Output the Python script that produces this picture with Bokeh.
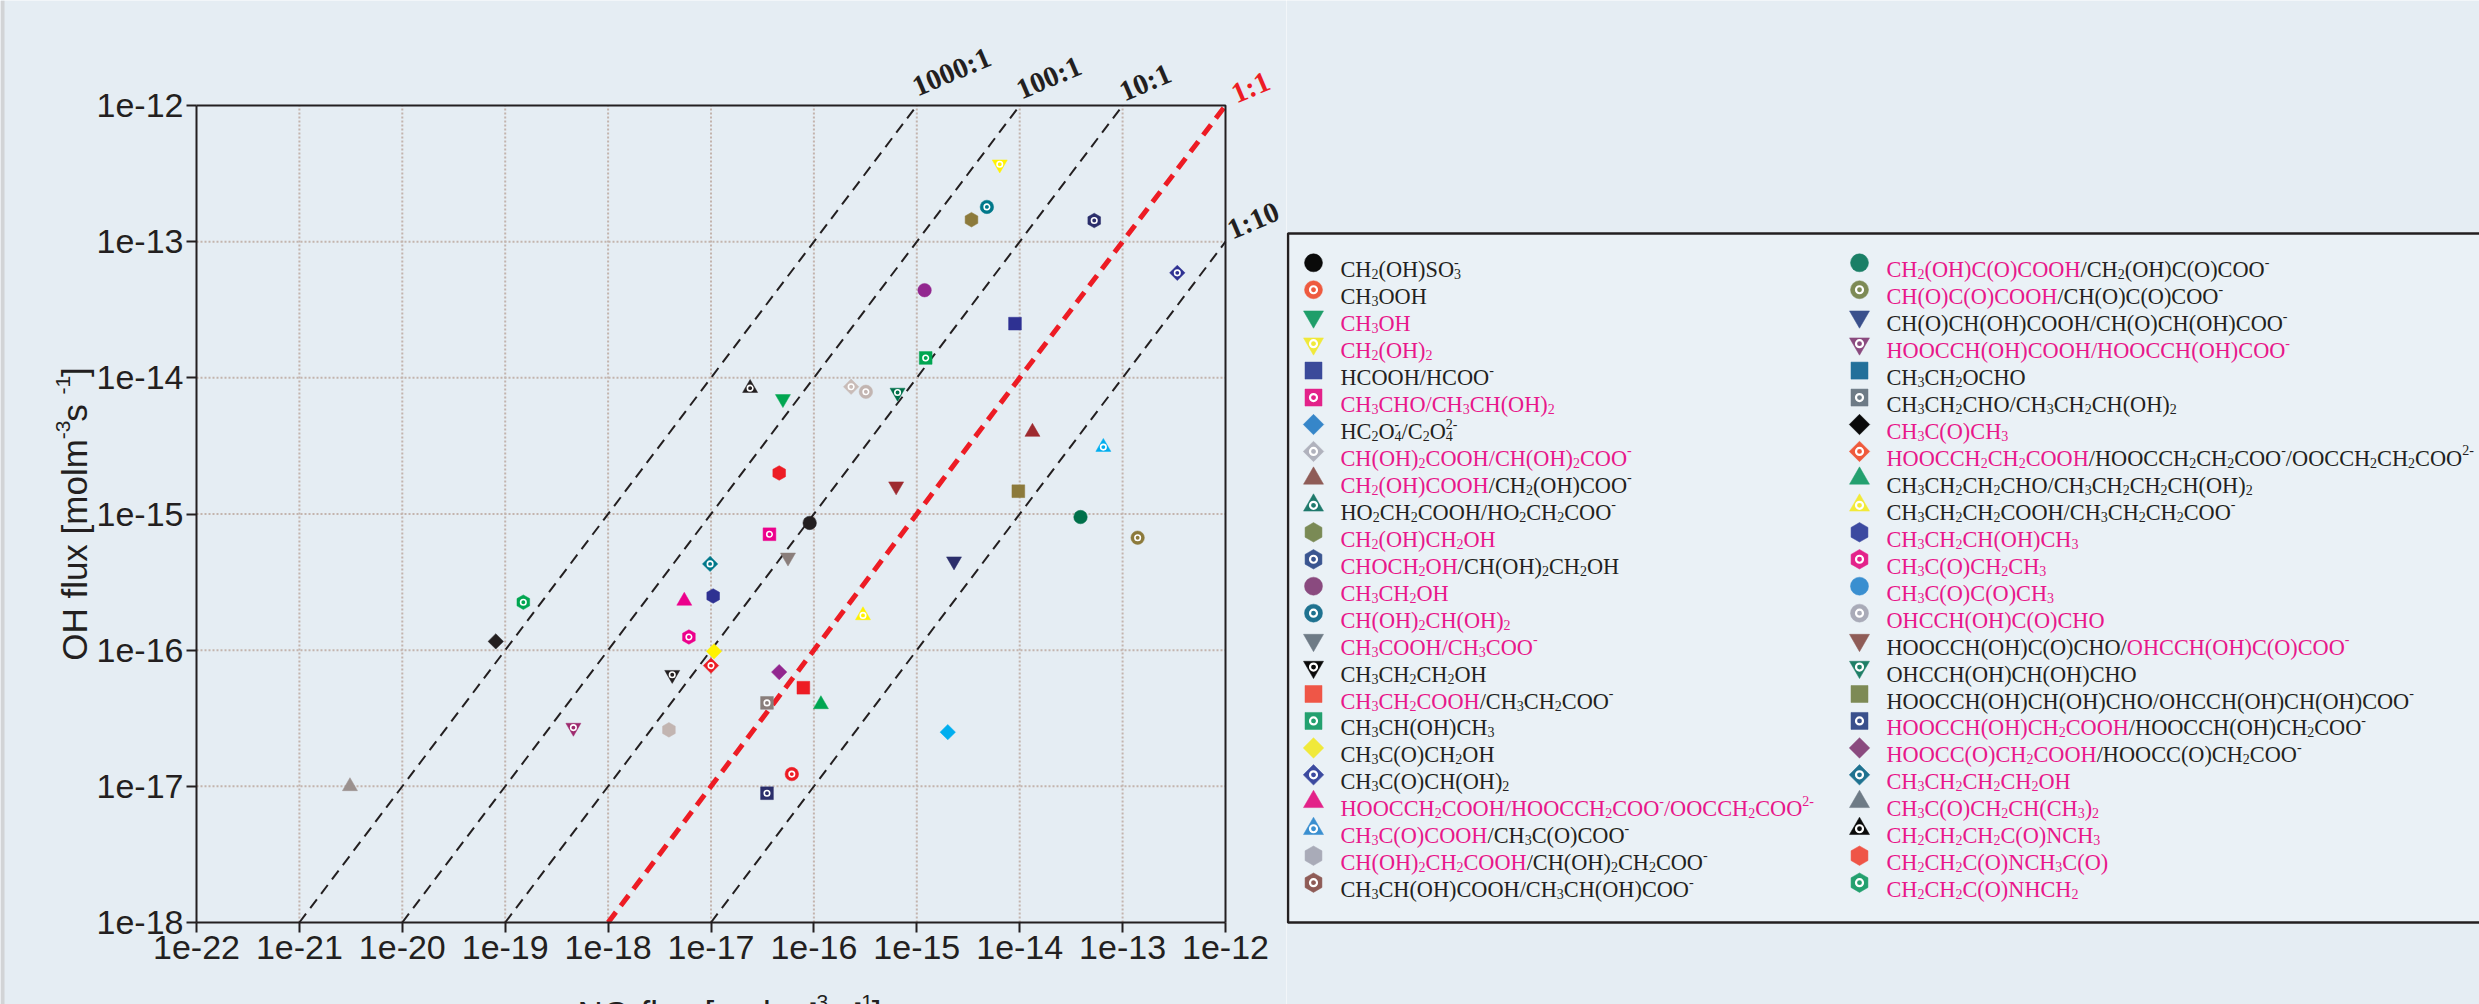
import math

from bokeh.core.properties import value
from bokeh.embed import file_html
from bokeh.layouts import row
from bokeh.models import ColumnDataSource, FixedTicker, Label, PrintfTickFormatter, Range1d
from bokeh.plotting import figure
from bokeh.resources import INLINE

# ---------------------------------------------------------------- data
# Species (digits are subscripts, text after "^" is the ionic charge).
SPECIES = [
    "CH2(OH)SO3^-",
    "CH3OOH",
    "CH3OH",
    "CH2(OH)2",
    "HCOOH/HCOO^-",
    "CH3CHO/CH3CH(OH)2",
    "HC2O4^-/C2O4^2-",
    "CH(OH)2COOH/CH(OH)2COO^-",
    "CH2(OH)COOH/CH2(OH)COO^-",
    "HO2CH2COOH/HO2CH2COO^-",
    "CH2(OH)CH2OH",
    "CHOCH2OH/CH(OH)2CH2OH",
    "CH3CH2OH",
    "CH(OH)2CH(OH)2",
    "CH3COOH/CH3COO^-",
    "CH3CH2CH2OH",
    "CH3CH2COOH/CH3CH2COO^-",
    "CH3CH(OH)CH3",
    "CH3C(O)CH2OH",
    "CH3C(O)CH(OH)2",
    "HOOCCH2COOH/HOOCCH2COO^-/OOCCH2COO^2-",
    "CH3C(O)COOH/CH3C(O)COO^-",
    "CH(OH)2CH2COOH/CH(OH)2CH2COO^-",
    "CH3CH(OH)COOH/CH3CH(OH)COO^-",
    "CH2(OH)C(O)COOH/CH2(OH)C(O)COO^-",
    "CH(O)C(O)COOH/CH(O)C(O)COO^-",
    "CH(O)CH(OH)COOH/CH(O)CH(OH)COO^-",
    "HOOCCH(OH)COOH/HOOCCH(OH)COO^-",
    "CH3CH2OCHO",
    "CH3CH2CHO/CH3CH2CH(OH)2",
    "CH3C(O)CH3",
    "HOOCCH2CH2COOH/HOOCCH2CH2COO^-/OOCCH2CH2COO^2-",
    "CH3CH2CH2CHO/CH3CH2CH2CH(OH)2",
    "CH3CH2CH2COOH/CH3CH2CH2COO^-",
    "CH3CH2CH(OH)CH3",
    "CH3C(O)CH2CH3",
    "CH3C(O)C(O)CH3",
    "OHCCH(OH)C(O)CHO",
    "HOOCCH(OH)C(O)CHO/OHCCH(OH)C(O)COO^-",
    "OHCCH(OH)CH(OH)CHO",
    "HOOCCH(OH)CH(OH)CHO/OHCCH(OH)CH(OH)COO^-",
    "HOOCCH(OH)CH2COOH/HOOCCH(OH)CH2COO^-",
    "HOOCC(O)CH2COOH/HOOCC(O)CH2COO^-",
    "CH3CH2CH2CH2OH",
    "CH3C(O)CH2CH(CH3)2",
    "CH2CH2CH2C(O)NCH3",
    "CH2CH2C(O)NCH3C(O)",
    "CH2CH2C(O)NHCH2",
]

# NO3 flux and OH flux [mol m-3 s-1]; None = not shown
NO3_FLUX = [
    9.1e-17, 6.1e-17, 5.0e-17, 6.4e-15, 9.0e-15, 3.7e-17, 2.0e-15, 2.3e-16,
    1.33e-14, None, 3.4e-15, 5.3e-14, 1.19e-15, 4.8e-15, 5.6e-17, 4.2e-18,
    7.9e-17, 1.22e-15, 1.07e-17, 3.4e-13, 5.5e-18, 6.5e-14, 3.9e-18, None,
    3.9e-14, 1.4e-13, 2.3e-15, 4.6e-19, None, 3.5e-17, 8.1e-20, 1.0e-17,
    1.17e-16, 3.0e-16, 1.05e-17, 6.1e-18, None, 3.2e-16, 6.3e-16, 6.5e-16,
    9.7e-15, 3.5e-17, 4.6e-17, 9.8e-18, 3.1e-21, 2.4e-17, 4.6e-17, 1.5e-19,
]
OH_FLUX = [
    8.6e-16, 1.23e-17, 7.0e-15, 3.7e-13, 2.5e-14, 7.1e-16, 2.5e-17, 8.6e-15,
    4.0e-15, None, 1.45e-13, 1.43e-13, 4.4e-14, 1.8e-13, 4.8e-16, 6.6e-17,
    5.3e-17, 1.4e-14, 9.8e-17, 5.9e-14, 2.3e-16, 3.1e-15, 2.6e-17, None,
    9.5e-16, 6.7e-16, 4.5e-16, 2.7e-17, None, 4.1e-17, 1.16e-16, 7.7e-17,
    4.0e-17, 1.8e-16, 2.5e-16, 1.25e-16, None, 7.9e-15, 1.6e-15, 7.8e-15,
    1.47e-15, 8.9e-18, 6.9e-17, 4.3e-16, 1.0e-17, 8.4e-15, 2.0e-15, 2.25e-16,
]

RATIOS = [1000, 100, 10, 1, 0.1]
RATIO_LABELS = ["1000:1", "100:1", "10:1", "1:1", "1:10"]
X_TICKS = [1e-22, 1e-21, 1e-20, 1e-19, 1e-18, 1e-17, 1e-16, 1e-15, 1e-14, 1e-13, 1e-12]
Y_TICKS = [1e-18, 1e-17, 1e-16, 1e-15, 1e-14, 1e-13, 1e-12]
Y_TITLE = [("OH flux [molm", "n"), ("-3", "p"), (" s", "n"), ("-1", "p"), ("]", "n")]
X_TITLE = [("NO", "n"), ("3", "b"), (" flux [molm", "n"), ("-3", "p"), (" s", "n"), ("-1", "p"), ("]", "n")]

# ---------------------------------------------------------------- styles
INK = "#231f20"
MAGENTA = "#e8178a"
RED = "#ed1c24"
BG = "#e5edf3"
KEY_BG = "#eaf1f6"
EDGE_STRIP = "#d2d4d6"

# per-part text tone of each species label: m = magenta, k = black
TONES = [
    "k", "k", "m", "m", "kk", "mm", "kk", "mm", "mk", "kk", "m", "mk",
    "m", "m", "mm", "k", "mk", "k", "k", "k", "mmm", "mk", "mk", "kk",
    "mk", "mk", "kk", "mm", "k", "kk", "m", "mkk", "kk", "kk", "m", "m",
    "m", "m", "km", "k", "kk", "mk", "mk", "m", "m", "m", "m", "m",
]
KEY_COLOURS = [
    "#0a0a0a", "#ee5a3f", "#1f9e6a", "#f0e93a", "#3b4a9a", "#e3228a", "#3686c9", "#b0b2bd",
    "#8f5c57", "#1f7a6c", "#7a8a55", "#3a5590", "#8a4a7f", "#1f7290", "#6e7b86", "#0a0a0a",
    "#ef5647", "#23a06f", "#f0e93a", "#3c4aa0", "#e32289", "#3a8fd0", "#a9abb8", "#8f5c57",
    "#1a7f66", "#7d8a55", "#3a508c", "#8a4a7f", "#22709a", "#6e7b86", "#0a0a0a", "#ef5a3c",
    "#23a06f", "#f2ea38", "#3c4aa0", "#e3228a", "#3a8fd0", "#a9abb8", "#8f5c57", "#1f7f66",
    "#7d8a55", "#3a508c", "#8a4a7f", "#1f7290", "#6e7b86", "#0a0a0a", "#ef5547", "#23a06f",
]
POINT_COLOURS = [
    "#231f20", "#ed1c24", "#00a651", "#fff200", "#2e3192", "#ec008c", "#00aeef", "#c9bcb8",
    "#9e2a2f", "#00796b", "#8c7a3b", "#2b2e6b", "#92278f", "#00788a", "#8a7e7b", "#231f20",
    "#ed1c24", "#00a651", "#fff200", "#2e3192", "#ec008c", "#00aeef", "#c2b5b1", "#8f5c57",
    "#00704a", "#8c7a3b", "#2b2e6b", "#9e2a6e", "#22709a", "#8a7e7b", "#231f20", "#ed1c24",
    "#00a651", "#fff200", "#2e3192", "#ec008c", "#3a8fd0", "#c2b5b1", "#9e2a2f", "#00704a",
    "#8c7a3b", "#2b2e6b", "#92278f", "#00788a", "#9b918e", "#231f20", "#ed1c24", "#00a651",
]
SHAPE_CYCLE = ["circle", "inverted_triangle", "square", "diamond", "triangle", "hex"]
# bokeh marker, rotation, key size
SHAPES = {
    "circle": ("circle", 0.0, 18.0),
    "inverted_triangle": ("inverted_triangle", 0.0, 20.0),
    "square": ("square", 0.0, 17.0),
    "diamond": ("square", math.pi / 4, 14.5),
    "triangle": ("triangle", 0.0, 20.0),
    "hex": ("hex", math.pi / 2, 19.5),
}
POINT_SCALE = 0.75

# advance widths (1/1000 em)
SERIF_W = {" ": 250, "(": 333, ")": 333, "-": 333, "/": 278, "C": 667, "H": 722,
           "O": 722, "S": 556, "N": 722}
SANS_W = {"O": 778, "H": 722, " ": 278, "f": 278, "l": 222, "u": 556, "x": 500, "[": 278,
          "]": 278, "m": 833, "o": 556, "s": 500, "-": 333, "N": 722}

# ---------------------------------------------------------------- geometry
W_TOTAL, H = 2479, 1004
W1 = 1286
BOX_L, BOX_R, BOX_T, BOX_B = 196, 1225, 105, 922

LX0, LX1 = math.log10(X_TICKS[0]), math.log10(X_TICKS[-1])
LY0, LY1 = math.log10(Y_TICKS[0]), math.log10(Y_TICKS[-1])


def to_x(px):
    return 10 ** (LX0 + (px - BOX_L) / (BOX_R - BOX_L) * (LX1 - LX0))


def to_y(py):
    return 10 ** (LY1 - (py - BOX_T) / (BOX_B - BOX_T) * (LY1 - LY0))


def text_width(text, table, size):
    return sum(table.get(c, 500) for c in text) * size / 1000.0


def lay_out(runs, table, size, small, drop, rise):
    """Return (along, across, text, font size, colour) for runs of
    normal (n), subscript (b) and superscript (p) text."""
    out = []
    x = 0.0
    last_sub = None
    for text, kind, colour in runs:
        fs = size if kind == "n" else small
        w = text_width(text, table, fs)
        if kind == "p" and last_sub is not None:
            start = last_sub[0]
            end = max(last_sub[1], start + w)
        else:
            start, end = x, x + w
        across = drop if kind == "b" else (-rise if kind == "p" else 0.0)
        out.append((start, across, text, fs, colour))
        last_sub = (start, end) if kind == "b" else None
        x = end
    return out, x


def formula_runs(name, tones):
    runs = []
    parts = name.split("/")
    for i, part in enumerate(parts):
        tone = MAGENTA if tones[i] == "m" else INK
        if i:
            slash = MAGENTA if tones[i - 1] == "m" and tones[i] == "m" else INK
            runs.append(["/", "n", slash])
        body, _, charge = part.partition("^")
        for ch in body:
            kind = "b" if ch.isdigit() else "n"
            if runs and runs[-1][1] == kind and runs[-1][2] == tone:
                runs[-1][0] += ch
            else:
                runs.append([ch, kind, tone])
        if charge:
            runs.append([charge, "p", tone])
    return [tuple(r) for r in runs]


def shape_of(i):
    base = SHAPE_CYCLE[(i // 2) % len(SHAPE_CYCLE)]
    return base, i % 2 == 1


# ---------------------------------------------------------------- chart
# The frame spans the whole canvas so that the ratio tags and axis titles
# around the plotting box are not clipped; the axes sit at fixed locations.
p1 = figure(
    width=W1, height=H, x_axis_type="log", y_axis_type="log",
    x_range=Range1d(to_x(0), to_x(W1)), y_range=Range1d(to_y(H), to_y(0)),
    output_backend="svg", toolbar_location=None, title=None, min_border=0,
    background_fill_color=BG, border_fill_color=BG, outline_line_color=None,
)
p1.grid.visible = False

# thin grey strip along the left edge of the page
p1.quad(left=[to_x(0)], right=[to_x(4)], bottom=[to_y(H)], top=[to_y(0)],
        fill_color=EDGE_STRIP, line_color=None)

xax, yax = p1.xaxis[0], p1.yaxis[0]
xax.fixed_location = Y_TICKS[0]
xax.bounds = (X_TICKS[0], X_TICKS[-1])
yax.fixed_location = X_TICKS[0]
yax.bounds = (Y_TICKS[0], Y_TICKS[-1])
for ax, ticks in ((xax, X_TICKS), (yax, Y_TICKS)):
    ax.ticker = FixedTicker(ticks=ticks)
    ax.formatter = PrintfTickFormatter(format="%.0e")
    ax.axis_line_color = INK
    ax.axis_line_width = 2
    ax.major_tick_line_color = INK
    ax.major_tick_line_width = 2
    ax.major_tick_out = 10
    ax.major_tick_in = 0
    ax.minor_tick_line_color = None
    ax.major_label_text_font = "Liberation Sans"
    ax.major_label_text_font_size = "34px"
    ax.major_label_text_color = INK
    ax.major_label_standoff = 3

# dotted decade grid inside the box
grid_xs = [[t, t] for t in X_TICKS[1:-1]] + [[X_TICKS[0], X_TICKS[-1]] for _ in Y_TICKS[1:-1]]
grid_ys = [[Y_TICKS[0], Y_TICKS[-1]] for _ in X_TICKS[1:-1]] + [[t, t] for t in Y_TICKS[1:-1]]
p1.multi_line(grid_xs, grid_ys, line_color="#c3b4ad", line_width=2, line_dash="2 2")

# constant-ratio reference lines, limited to the box
for r in RATIOS:
    x_lo = max(X_TICKS[0], Y_TICKS[0] / r)
    x_hi = min(X_TICKS[-1], Y_TICKS[-1] / r)
    unity = r == 1
    p1.line([x_lo, x_hi], [r * x_lo, r * x_hi], line_color=RED if unity else INK,
            line_width=5 if unity else 2,
            line_dash="13 8" if unity else "11 7")

# top and right edges of the box
p1.line([X_TICKS[0], X_TICKS[-1], X_TICKS[-1]], [Y_TICKS[-1], Y_TICKS[-1], Y_TICKS[0]],
        line_color=INK, line_width=2)

pts = dict(x=[], y=[], marker=[], angle=[], size=[], colour=[])
rings = dict(x=[], y=[])
for i, (xv, yv) in enumerate(zip(NO3_FLUX, OH_FLUX)):
    if xv is None or yv is None:
        continue
    base, dotted = shape_of(i)
    marker, angle, size = SHAPES[base]
    pts["x"].append(xv)
    pts["y"].append(yv)
    pts["marker"].append(marker)
    pts["angle"].append(angle)
    pts["size"].append(size * POINT_SCALE)
    pts["colour"].append(POINT_COLOURS[i])
    if dotted:
        rings["x"].append(xv)
        rings["y"].append(yv)

p1.scatter("x", "y", source=ColumnDataSource(pts), marker="marker", angle="angle",
           size="size", fill_color="colour", line_color="colour", line_width=0.5)
p1.scatter("x", "y", source=ColumnDataSource(rings), marker="circle", size=5.5,
           fill_color=None, line_color="white", line_width=1.6)

# ratio tags
RATIO_ANCHORS = [(913, 87), (1017, 90), (1120, 92), (1232, 94), (1228, 230)]
for lab, r, (ax_, ay_) in zip(RATIO_LABELS, RATIOS, RATIO_ANCHORS):
    p1.add_layout(Label(
        x=to_x(ax_), y=to_y(ay_), text=lab, angle=math.radians(23),
        text_font="Liberation Serif", text_font_style="bold", text_font_size="29px",
        text_color=RED if r == 1 else INK, text_align="left", text_baseline="alphabetic",
    ))

# axis titles
TITLE_FS, TITLE_SMALL = 35.0, 21.0
y_runs, y_len = lay_out([(t, k, INK) for t, k in Y_TITLE], SANS_W, TITLE_FS, TITLE_SMALL, 5.0, 12.0)
y_base_x = 74.0
y_start = (BOX_T + BOX_B) / 2 + y_len / 2
for along, across, text, fs, colour in y_runs:
    p1.add_layout(Label(
        x=to_x(y_base_x + across), y=to_y(y_start - along), text=text, angle=math.pi / 2,
        text_font="Liberation Sans", text_font_size=f"{fs}px", text_color=colour,
        text_align="left", text_baseline="alphabetic",
    ))

x_runs, x_len = lay_out([(t, k, INK) for t, k in X_TITLE], SANS_W, TITLE_FS, TITLE_SMALL, 5.0, 12.0)
x_base_y = 1013.0
x_start = 729 - x_len / 2
for along, across, text, fs, colour in x_runs:
    p1.add_layout(Label(
        x=to_x(x_start + along), y=to_y(x_base_y + across), text=text,
        text_font="Liberation Sans", text_font_size=f"{fs}px", text_color=colour,
        text_align="left", text_baseline="alphabetic",
    ))

# ---------------------------------------------------------------- key panel
p2 = figure(
    width=W_TOTAL - W1, height=H, x_range=Range1d(W1, W_TOTAL), y_range=Range1d(H, 0),
    x_axis_type=None, y_axis_type=None, output_backend="svg", toolbar_location=None,
    title=None, min_border=0, background_fill_color=BG, border_fill_color=BG,
    outline_line_color=None,
)

KEY_LEFT, KEY_TOP, KEY_BOTTOM = W1 + 1.5, 233, 922
p2.quad(left=[KEY_LEFT], right=[W_TOTAL + 10], top=[KEY_TOP], bottom=[KEY_BOTTOM],
        fill_color=KEY_BG, line_color=None)
p2.line([W_TOTAL + 10, KEY_LEFT, KEY_LEFT, W_TOTAL + 10],
        [KEY_TOP, KEY_TOP, KEY_BOTTOM, KEY_BOTTOM], line_color=INK, line_width=2.5)

KEY_X = [1313, 1859]
TEXT_X = [1340, 1886]
ROW_Y0, ROW_DY = 262.3, 26.95
PER_COLUMN = 24
TEXT_FS, TEXT_SMALL = 22.3, 14.0

keys = dict(x=[], y=[], marker=[], angle=[], size=[], colour=[])
key_rings = dict(x=[], y=[])
labels = dict(x=[], y=[], text=[], colour=[], fs=[])
for i, name in enumerate(SPECIES):
    col, rw = divmod(i, PER_COLUMN)
    cy = ROW_Y0 + rw * ROW_DY
    base, dotted = shape_of(i)
    marker, angle, size = SHAPES[base]
    keys["x"].append(KEY_X[col])
    keys["y"].append(cy)
    keys["marker"].append(marker)
    keys["angle"].append(angle)
    keys["size"].append(size)
    keys["colour"].append(KEY_COLOURS[i])
    if dotted:
        key_rings["x"].append(KEY_X[col])
        key_rings["y"].append(cy)
    runs, _ = lay_out(formula_runs(name, TONES[i]), SERIF_W, TEXT_FS, TEXT_SMALL, 4.5, 8.0)
    for along, across, text, fs, colour in runs:
        labels["x"].append(TEXT_X[col] + along)
        labels["y"].append(cy + 7.0 + across)
        labels["text"].append(text)
        labels["colour"].append(colour)
        labels["fs"].append(f"{fs}px")

p2.scatter("x", "y", source=ColumnDataSource(keys), marker="marker", angle="angle",
           size="size", fill_color="colour", line_color="colour", line_width=0.5)
p2.scatter("x", "y", source=ColumnDataSource(key_rings), marker="circle", size=7.0,
           fill_color=None, line_color="white", line_width=2.2)
p2.text("x", "y", text="text", source=ColumnDataSource(labels), text_color="colour",
        text_font_size="fs", text_font=value("Liberation Serif"),
        text_align="left", text_baseline="alphabetic")

layout = row(p1, p2)
with open("out.html", "w") as f:
    f.write(file_html(layout, INLINE))
